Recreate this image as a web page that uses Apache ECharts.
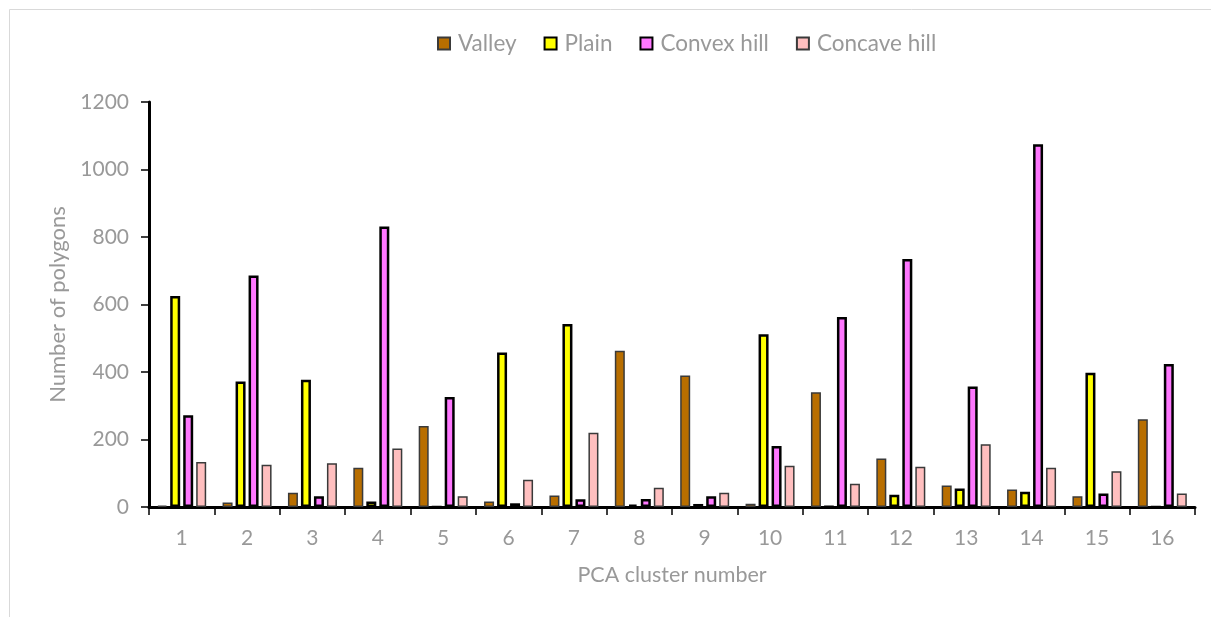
<!DOCTYPE html>
<html>
<head>
<meta charset="utf-8">
<script src="https://cdn.jsdelivr.net/npm/echarts@6/dist/echarts.min.js"></script>
<style>
  html, body { margin: 0; padding: 0; background: #ffffff; }
  #chart { width: 1211px; height: 617px; }
</style>
</head>
<body>
<div id="chart"></div>
<script>
// Landform polygon counts per PCA cluster
const clusters = ['1','2','3','4','5','6','7','8','9','10','11','12','13','14','15','16'];
const valley  = [4, 13, 42, 116, 240, 16, 34, 463, 390, 10, 340, 144, 64, 52, 32, 260];
const plain   = [625, 372, 377, 16, 0, 458, 542, 7, 9, 512, 1, 36, 55, 45, 398, 0];
const convex  = [272, 686, 32, 831, 326, 11, 23, 24, 32, 181, 563, 735, 357, 1075, 40, 424];
const concave = [133, 125, 130, 173, 32, 81, 220, 57, 42, 122, 69, 119, 186, 116, 106, 40];
const yTicks  = { min: 0, max: 1200, interval: 200 };

const grey = '#999999';
const font = 'Lato, "Liberation Sans", sans-serif';

function barSeries(name, data, fill, border, borderWidth) {
  return {
    name: name,
    type: 'bar',
    data: data,
    barWidth: 10,
    barGap: '30%',
    itemStyle: { color: fill, borderColor: border, borderWidth: borderWidth },
    emphasis: { disabled: true }
  };
}

const chart = echarts.init(document.getElementById('chart'), null, { renderer: 'canvas' });
chart.setOption({
  animation: false,
  backgroundColor: '#ffffff',
  textStyle: { fontFamily: font },
  graphic: [{
    type: 'rect',
    shape: { x: 9.5, y: 9.5, width: 1230, height: 640 },
    style: { fill: 'none', stroke: '#d9d9d9', lineWidth: 1 },
    silent: true
  }],
  legend: {
    top: 27,
    left: 432,
    icon: 'rect',
    itemWidth: 12,
    itemHeight: 12,
    itemGap: 27,
    textStyle: { color: grey, fontSize: 22.5, fontFamily: font, padding: [0, 0, 0, 3] },
    data: ['Valley', 'Plain', 'Convex hill', 'Concave hill']
  },
  grid: { left: 149, right: 16, top: 102, bottom: 110 },
  xAxis: {
    type: 'category',
    data: clusters,
    name: 'PCA cluster number',
    nameLocation: 'middle',
    nameGap: 57,
    nameTextStyle: { color: grey, fontSize: 21.5, fontFamily: font },
    axisLine: { lineStyle: { color: '#000000', width: 3 } },
    axisTick: { show: true, length: 8, lineStyle: { color: '#000000', width: 1.5 } },
    axisLabel: { color: grey, fontSize: 21, margin: 21, fontFamily: font },
    splitLine: { show: false }
  },
  yAxis: {
    type: 'value',
    min: yTicks.min,
    max: yTicks.max,
    interval: yTicks.interval,
    name: 'Number of polygons',
    nameLocation: 'middle',
    nameRotate: 90,
    nameGap: 78,
    nameTextStyle: { color: grey, fontSize: 22, fontFamily: font },
    axisLine: { show: true, lineStyle: { color: '#000000', width: 3 } },
    axisTick: { show: true, length: 8, lineStyle: { color: '#000000', width: 1.5 } },
    axisLabel: { color: grey, fontSize: 21, margin: 20, fontFamily: font, formatter: function (v) { return String(v); } },
    splitLine: { show: false }
  },
  series: [
    barSeries('Valley', valley, '#b86e00', '#3a3a3a', 1.5),
    barSeries('Plain', plain, '#ffff00', '#000000', 2.5),
    barSeries('Convex hill', convex, '#ff77ff', '#000000', 2.5),
    barSeries('Concave hill', concave, '#ffbfbf', '#3a3a3a', 1.5)
  ]
});
</script>
</body>
</html>
